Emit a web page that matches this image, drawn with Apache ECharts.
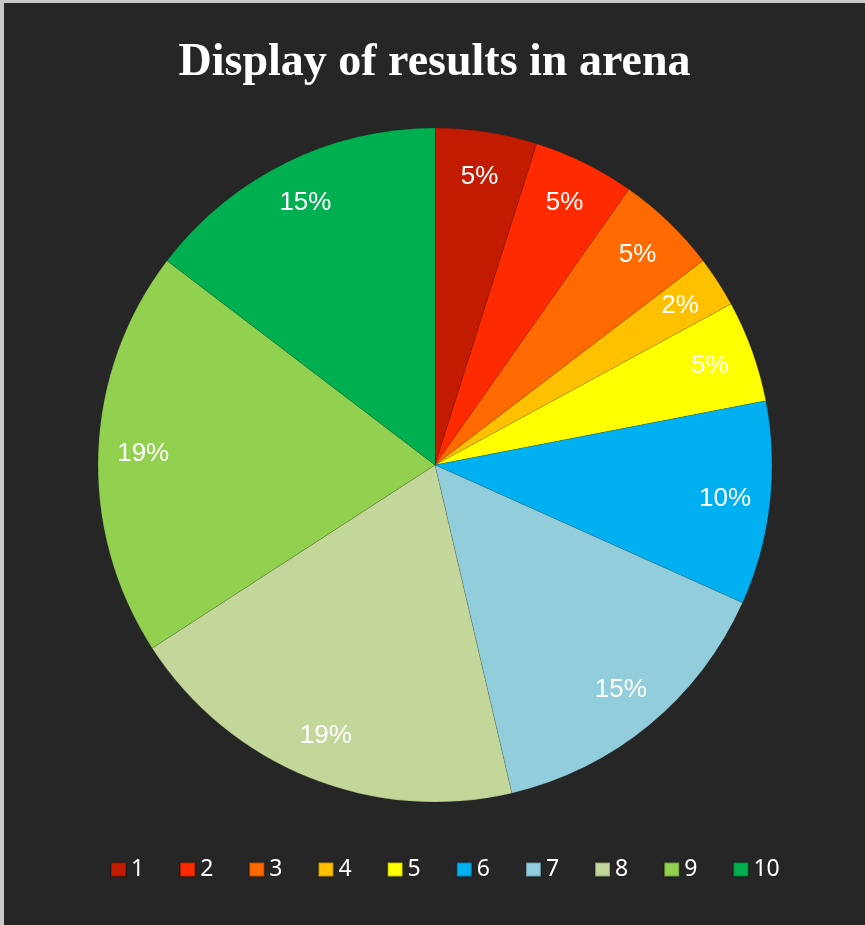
<!DOCTYPE html>
<html>
<head>
<meta charset="utf-8">
<script src="https://cdn.jsdelivr.net/npm/echarts@6/dist/echarts.min.js"></script>
<style>
  html, body { margin: 0; padding: 0; background: #c8c8c8; }
  #chart {
    position: absolute;
    left: 4px;
    top: 3px;
    width: 861px;
    height: 922px;
  }
</style>
</head>
<body>
<div id="chart"></div>
<script>
// result groups and their counts
const categories = ["1", "2", "3", "4", "5", "6", "7", "8", "9", "10"];
const counts = [2, 2, 2, 1, 2, 4, 6, 8, 8, 6];
const colors = [
  "#C21B00", "#FF2A00", "#FF6A00", "#FFC000", "#FFFF00",
  "#00B0F0", "#92CDDC", "#C4D79B", "#92D050", "#00B050",
];

const pieData = categories.map((name, i) => ({
  name: name,
  value: counts[i],
  itemStyle: { color: colors[i] },
}));

const chart = echarts.init(document.getElementById("chart"));

const option = {
  backgroundColor: "#262626",
  animation: false,
  title: {
    text: "Display of results in arena",
    left: "center",
    top: 32,
    textStyle: {
      fontFamily: "Liberation Serif",
      fontWeight: "bold",
      fontSize: 46,
      color: "#fff",
    },
  },
  legend: {
    data: categories,
    left: 101,
    top: 850,
    icon: "rect",
    itemWidth: 15,
    itemHeight: 14,
    itemGap: 35,
    textStyle: {
      fontFamily: "Noto Sans",
      fontSize: 23,
      color: "#fff",
    },
  },
  series: [
    {
      name: "results",
      type: "pie",
      center: [431, 462],
      radius: 337,
      startAngle: 90,
      clockwise: true,
      label: { show: false },
      labelLine: { show: false },
      itemStyle: { borderWidth: 0.5, borderColor: "rgba(0,0,0,0.25)" },
      emphasis: { disabled: true },
      data: pieData,
    },
    {
      // ring carrying the percentage labels near the rim
      name: "labels",
      type: "pie",
      center: [431, 462],
      radius: [241, 337],
      startAngle: 90,
      clockwise: true,
      silent: true,
      percentPrecision: 0,
      itemStyle: { color: "transparent", borderWidth: 0 },
      label: {
        show: true,
        position: "inside",
        formatter: "{d}%",
        fontFamily: "Liberation Sans",
        fontSize: 26,
        color: "#fff",
      },
      labelLine: { show: false },
      emphasis: { disabled: true },
      data: categories.map((name, i) => ({ name: name, value: counts[i] })),
    },
  ],
};

chart.setOption(option);
</script>
</body>
</html>
